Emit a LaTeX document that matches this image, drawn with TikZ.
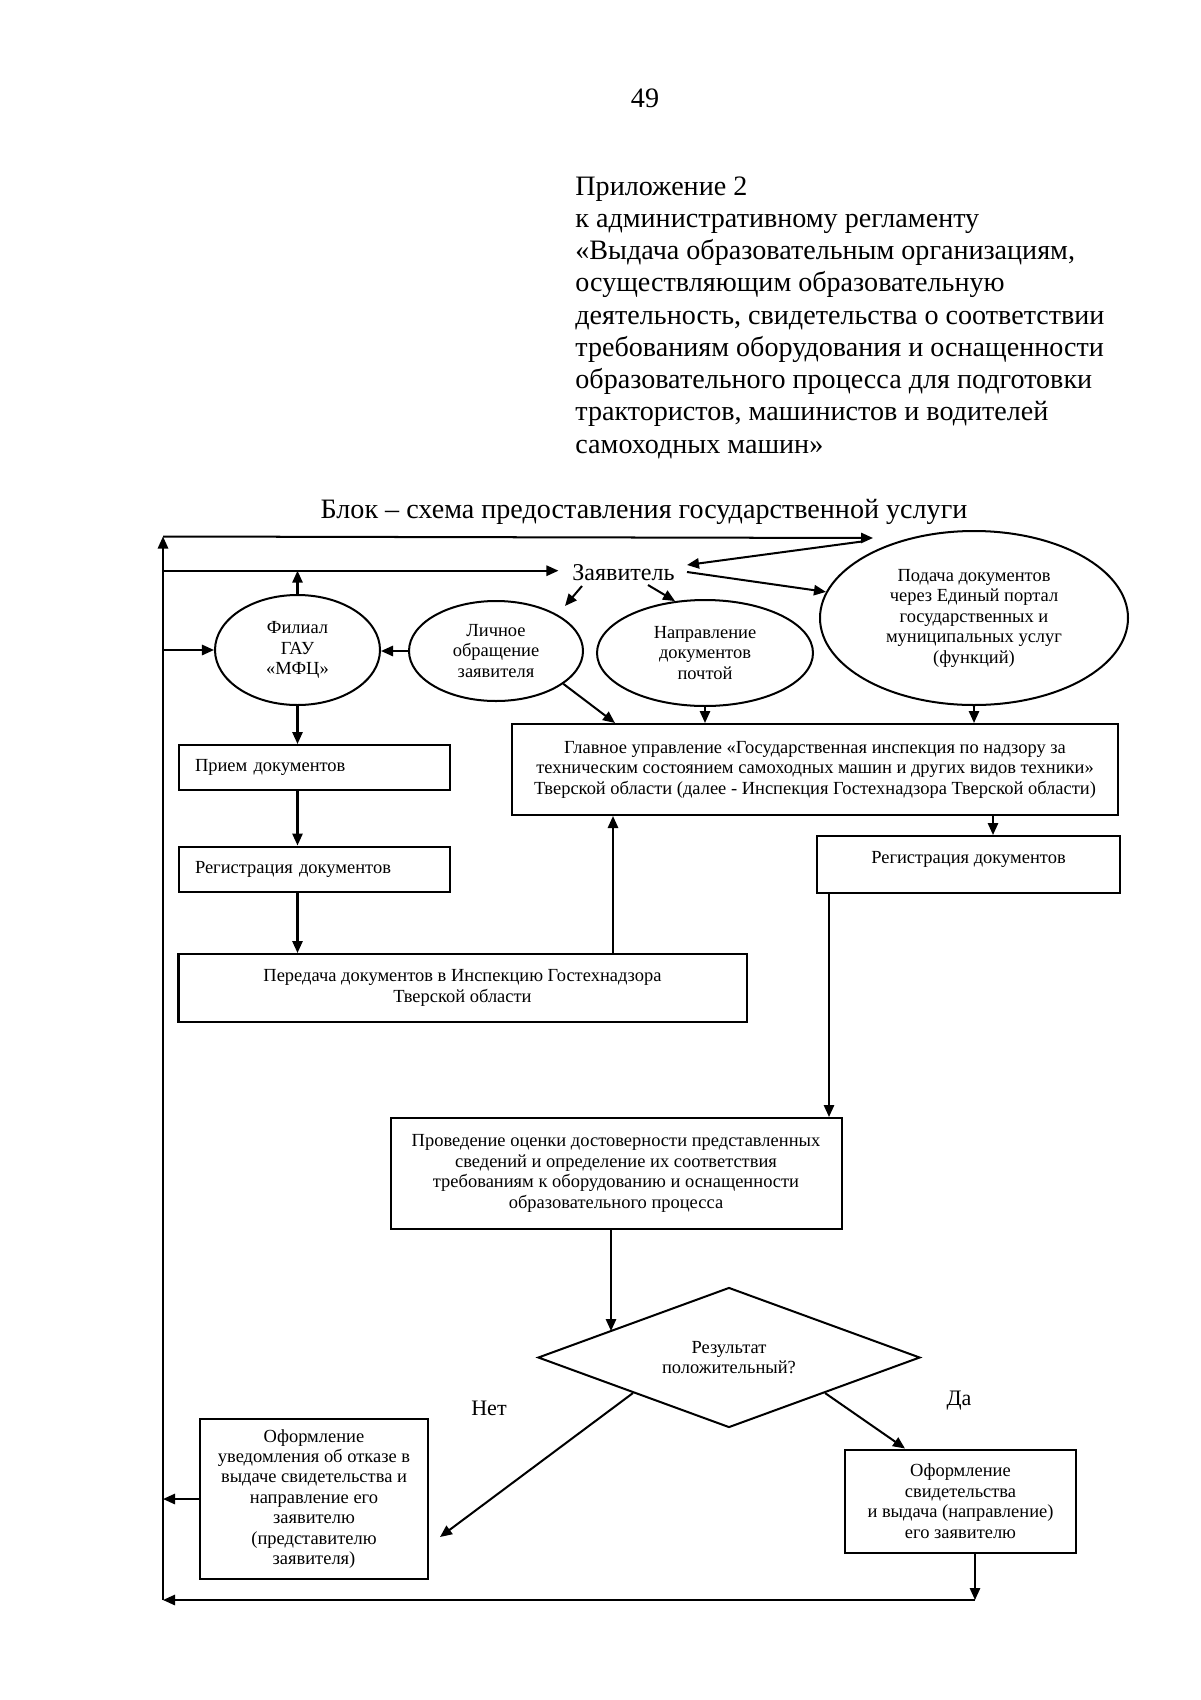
\documentclass[tikz,border=0pt]{standalone}
\usepackage{fontspec}
\setmainfont{Liberation Serif}
\usetikzlibrary{arrows.meta,shapes.geometric}
\newcommand\unitpx{0.175mm}
\begin{document}
\begin{tikzpicture}[x=0.175mm,y=-0.175mm,
  every node/.style={font=\fontsize{9.2}{10.2}\selectfont},
  arr/.style={-{Triangle[length=2.1mm,width=1.8mm]}, line width=1pt},
  box/.style={draw, line width=1pt, align=center, inner sep=1pt},
  ell/.style={draw, ellipse, line width=1pt, align=center, inner sep=0pt},
  hdr/.style={anchor=base west, inner sep=0pt, font=\fontsize{14}{16}\selectfont}]
\useasboundingbox[fill=white] (0,0) rectangle (1200,1700);

% header
\node[anchor=base, inner sep=0pt, font=\fontsize{14}{16}\selectfont] (n49) at (645,107) {49};
\node[hdr] (h1) at (575,195) {Приложение 2};
\node[hdr] (h2) at (575,227.25) {к административному регламенту};
\node[hdr] (h3) at (575,259.5) {«Выдача образовательным организациям,};
\node[hdr] (h4) at (575,291.75) {осуществляющим образовательную};
\node[hdr] (h5) at (575,324) {деятельность, свидетельства о соответствии};
\node[hdr] (h6) at (575,356.25) {требованиям оборудования и оснащенности};
\node[hdr] (h7) at (575,388.5) {образовательного процесса для подготовки};
\node[hdr] (h8) at (575,420.75) {трактористов, машинистов и водителей};
\node[hdr] (h9) at (575,453) {самоходных машин»};
\node[anchor=base, inner sep=0pt, font=\fontsize{14}{16}\selectfont] (title) at (644,518) {Блок – схема предоставления государственной услуги};

% nodes
\node[font=\fontsize{12}{14}\selectfont, anchor=base, inner sep=1pt] (zayav) at (623.5,580) {Заявитель};
\node[ell, minimum width=165*\unitpx, minimum height=110*\unitpx] (mfc) at (297.5,650) {Филиал\\ГАУ\\«МФЦ»};
\node[ell, minimum width=174*\unitpx, minimum height=100*\unitpx] (lichnoe) at (496,651) {Личное\\обращение\\заявителя};
\node[ell, minimum width=216*\unitpx, minimum height=106*\unitpx] (pochta) at (705,653) {Направление\\документов\\почтой};
\node[ell, minimum width=308*\unitpx, minimum height=174*\unitpx] (podacha) at (974,618) {Подача документов\\через Единый портал\\государственных и\\муниципальных услуг\\(функций)};

\node[box, minimum width=606*\unitpx, minimum height=91*\unitpx] (glavnoe) at (815,769.5) {Главное управление «Государственная инспекция по надзору за\\техническим состоянием самоходных машин и других видов техники»\\Тверской области (далее - Инспекция Гостехнадзора Тверской области)};
\node[box, align=left, text width=239*\unitpx, inner xsep=16*\unitpx, minimum height=45*\unitpx] (priem) at (314.5,767.5) {Прием документов};
\node[box, align=left, text width=239*\unitpx, inner xsep=16*\unitpx, minimum height=45*\unitpx] (reg1) at (314.5,869) {Регистрация документов};
\node[box, minimum width=568*\unitpx, minimum height=68*\unitpx] (peredacha) at (462.5,988) {Передача документов в Инспекцию Гостехнадзора\\Тверской области};
\node[box, minimum width=303*\unitpx, minimum height=57*\unitpx, text depth=7pt] (reg2) at (968.5,864.5) {Регистрация документов};
\node[box, minimum width=451*\unitpx, minimum height=111*\unitpx] (proved) at (616,1173.5) {Проведение оценки достоверности представленных\\сведений и определение их соответствия\\требованиям к оборудованию и оснащенности\\образовательного процесса};
\node[draw, diamond, aspect=2.73, minimum width=382*\unitpx, minimum height=140*\unitpx, inner sep=0pt, align=center, line width=1pt] (dia) at (729,1357.5) {Результат\\положительный?};
\node[box, minimum width=228*\unitpx, minimum height=160*\unitpx] (otkaz) at (314,1499) {Оформление\\уведомления об отказе в\\выдаче свидетельства и\\направление его\\заявителю\\(представителю\\заявителя)};
\node[box, minimum width=231*\unitpx, minimum height=103*\unitpx] (oform) at (960.5,1501) {Оформление\\свидетельства\\и выдача (направление)\\его заявителю};
\node[font=\fontsize{11}{13}\selectfont] (net) at (489,1408) {Нет};
\node[font=\fontsize{11}{13}\selectfont] (da) at (959,1401) {Да};

% coordinates
\coordinate (Ltop) at (163,536.5);
\coordinate (Lbot) at (163,1600);
\coordinate (L2) at (163,570.7);
\coordinate (Ptip) at (873,538);
\coordinate (Pst) at (862,541.5);
\coordinate (zin) at (687,565);
\coordinate (zout) at (687,572);
\coordinate (zs1) at (582,586);
\coordinate (zt1) at (565,606);
\coordinate (zs2) at (648,585);
\coordinate (lt) at (615,0);
\coordinate (px) at (613,0);
\coordinate (gx) at (993,0);
\coordinate (rx) at (829,0);
\coordinate (dIn) at (611,1331);
\coordinate (nTip) at (440,1537);
\coordinate (yTip) at (905,0);
\coordinate (bx) at (975,0);

% connectors
\draw[arr] (Lbot) -- (Ltop);
\draw[arr] (Ltop) -- (Ptip);
\draw[arr] (Pst) -- (zin);
\draw[arr] (zout) -- (podacha.170);
\draw[arr] (zs1) -- (zt1);
\draw[arr] (zs2) -- (pochta.120);
\draw[arr, shorten >=2mm] (L2) -- (L2 -| zayav.west);
\draw[arr] (mfc.north) -- (mfc.north |- L2);
\draw[arr] (L2 |- mfc.west) -- (mfc.west);
\draw[arr] (lichnoe.west) -- (lichnoe.west -| mfc.east);
\draw[arr] (mfc.south) -- (mfc.south |- priem.north);
\draw[arr] (mfc.south |- priem.south) -- (mfc.south |- reg1.north);
\draw[arr] (mfc.south |- reg1.south) -- (mfc.south |- peredacha.north);
\draw[arr] (px |- peredacha.north) -- (px |- glavnoe.south);
\draw[arr] (lichnoe.-26) -- (lt |- glavnoe.north);
\draw[arr] (pochta.south) -- (pochta.south |- glavnoe.north);
\draw[arr] (podacha.south) -- (podacha.south |- glavnoe.north);
\draw[arr] (gx |- glavnoe.south) -- (gx |- reg2.north);
\draw[arr] (rx |- reg2.south) -- (rx |- proved.north);
\draw[arr] (dIn |- proved.south) -- (dIn);
\draw[arr] (dia.south west) -- (nTip);
\draw[arr] (dia.south east) -- (yTip |- oform.north);
\draw[arr] (otkaz.west) -- (otkaz.west -| Lbot);
\draw[arr] (bx |- oform.south) -- (bx |- Lbot);
\draw[arr] (bx |- Lbot) -- (Lbot);
\end{tikzpicture}
\end{document}
